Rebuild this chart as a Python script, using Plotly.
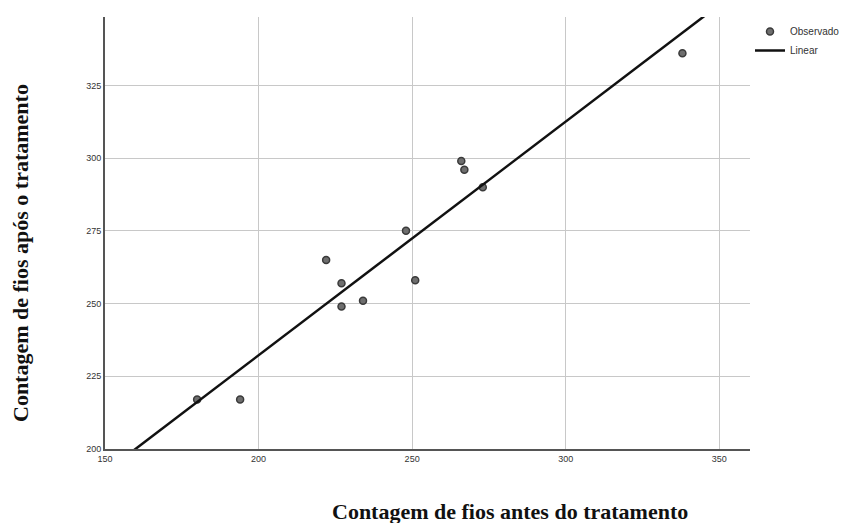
import numpy as np
import plotly.graph_objects as go

antes = [180, 194, 222, 227, 227, 234, 248, 251, 266, 267, 273, 338]
apos = [217, 217, 265, 257, 249, 251, 275, 258, 299, 296, 290, 336]
x_ticks = [150, 200, 250, 300, 350]
y_ticks = [200, 225, 250, 275, 300, 325]

slope, intercept = np.polyfit(antes, apos, 1)
lx = np.array([150, 360])
ly = slope * lx + intercept

L, R, T, B = 105, 110, 17, 74
W, H = 860, 523
PW, PH = W - L - R, H - T - B

fig = go.Figure()
fig.add_trace(go.Scatter(
    x=antes, y=apos, mode="markers", name="Observado",
    marker=dict(size=7, color="#6e6e6e", line=dict(color="#3a3a3a", width=1.5)),
))
fig.add_trace(go.Scatter(
    x=lx, y=ly, mode="lines", name="Linear",
    line=dict(color="#111111", width=2.5),
))

fig.update_layout(
    width=W, height=H,
    margin=dict(l=L, r=R, t=T, b=B),
    plot_bgcolor="white", paper_bgcolor="white",
    font=dict(family="Liberation Sans, Arial", size=9, color="#333333"),
    showlegend=True,
    legend=dict(x=1.0, y=1.0, xanchor="left", yanchor="top",
                font=dict(size=10, color="#333333"), tracegroupgap=0,
                bgcolor="rgba(0,0,0,0)"),
    xaxis=dict(range=[150, 360], tickvals=x_ticks, showgrid=True,
               gridcolor="#c8c8c8", gridwidth=1, showline=True,
               linecolor="#555555", linewidth=2, zeroline=False, ticks="",
               tickfont=dict(size=9, color="#333333")),
    yaxis=dict(range=[200, 348.5], tickvals=y_ticks, showgrid=True,
               gridcolor="#c8c8c8", gridwidth=1, showline=True,
               linecolor="#555555", linewidth=2, zeroline=False, ticks="",
               tickfont=dict(size=9, color="#333333")),
    annotations=[
        dict(text="<b>Contagem de fios antes do tratamento</b>",
             xref="paper", yref="paper", x=(510 - L) / PW, y=(H - B - 511) / PH,
             xanchor="center", yanchor="middle", showarrow=False,
             font=dict(family="Liberation Serif, Times New Roman", size=22, color="#111111")),
        dict(text="<b>Contagem de fios após o tratamento</b>",
             xref="paper", yref="paper", x=(20 - L) / PW, y=(H - B - 253) / PH,
             xanchor="center", yanchor="middle", showarrow=False, textangle=-90,
             font=dict(family="Liberation Serif, Times New Roman", size=22, color="#111111")),
    ],
)

fig.write_html("out.html", config={"displayModeBar": False},
               post_script="document.body.style.margin='0';document.body.style.overflow='hidden';")
